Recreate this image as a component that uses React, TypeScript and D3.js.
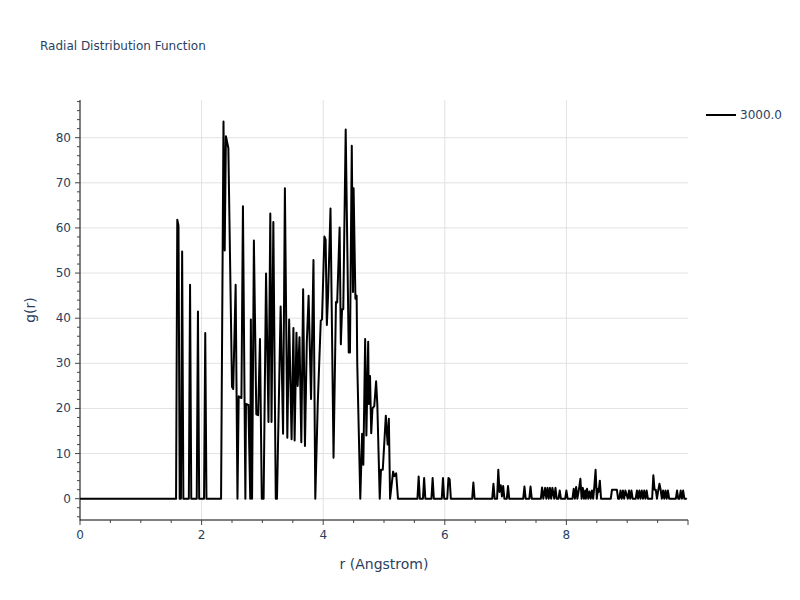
import React from "react";
import * as d3 from "d3";

// r (Angstrom) and g(r) vertices
const rVals = [
  0, 1.58, 1.6, 1.62, 1.64, 1.66, 1.68, 1.7, 1.79, 1.81, 1.83, 1.92, 1.94, 1.96, 2.04, 2.06, 2.08,
  2.32, 2.36, 2.38, 2.4, 2.44, 2.5, 2.52, 2.56, 2.59, 2.61, 2.655, 2.68, 2.72, 2.73, 2.77, 2.8, 2.81,
  2.83, 2.86, 2.9, 2.93, 2.96, 2.99, 3.02, 3.06, 3.1, 3.13, 3.15, 3.18, 3.22, 3.24, 3.3, 3.34, 3.37,
  3.41, 3.44, 3.48, 3.51, 3.53, 3.56, 3.58, 3.61, 3.64, 3.67, 3.7, 3.73, 3.76, 3.8, 3.84, 3.87, 3.91,
  3.96, 3.98, 4.02, 4.04, 4.06, 4.08, 4.12, 4.17, 4.21, 4.23, 4.27, 4.29, 4.31, 4.33, 4.37, 4.42, 4.44,
  4.47, 4.49, 4.5, 4.53, 4.55, 4.56, 4.61, 4.64, 4.66, 4.69, 4.71, 4.74, 4.75, 4.77, 4.79, 4.81, 4.84,
  4.87, 4.89, 4.93, 4.95, 4.98, 5.03, 5.06, 5.08, 5.1, 5.15, 5.17, 5.2, 5.23,
  5.55, 5.57, 5.59, 5.64, 5.66, 5.68, 5.78, 5.8, 5.82, 5.95, 5.97, 5.99, 6.04, 6.06, 6.08, 6.1,
  6.45, 6.47, 6.49, 6.78, 6.8, 6.82, 6.86, 6.88, 6.9, 6.92, 6.94, 6.96, 6.98, 7.02, 7.04, 7.06,
  7.29, 7.31, 7.33, 7.39, 7.41, 7.43, 7.58, 7.6, 7.62, 7.65, 7.67, 7.69, 7.71, 7.73, 7.75, 7.77,
  7.80, 7.82, 7.84, 7.87, 7.89, 7.91, 7.98, 8.0, 8.02, 8.1, 8.12, 8.14, 8.16, 8.18, 8.21, 8.23,
  8.25, 8.27, 8.29, 8.31, 8.32, 8.34, 8.36, 8.38, 8.4, 8.42, 8.44, 8.46, 8.48, 8.5, 8.52, 8.53,
  8.55, 8.57, 8.59, 8.73, 8.75, 8.83, 8.85, 8.87, 8.89, 8.91, 8.93, 8.95, 8.97, 9.01, 9.03, 9.05,
  9.07, 9.09, 9.14, 9.16, 9.18, 9.2, 9.22, 9.24, 9.26, 9.28, 9.3, 9.32, 9.34, 9.41, 9.43, 9.45,
  9.47, 9.49, 9.51, 9.53, 9.55, 9.57, 9.59, 9.61, 9.63, 9.65, 9.67, 9.69, 9.71, 9.8, 9.82, 9.84,
  9.86, 9.88, 9.9, 9.92, 9.94, 9.96, 9.98,
];

const gVals = [
  0, 0, 61.8, 60.5, 0, 0, 54.8, 0, 0, 47.4, 0, 0, 41.5, 0, 0, 36.7, 0,
  0, 83.6, 55, 80.3, 77.7, 24.8, 24.3, 47.4, 0, 22.7, 22.3, 64.8, 0, 21, 20.8, 0, 39.7,
  0, 57.2, 18.7, 18.5, 35.4, 0, 0, 49.9, 17, 63.2, 17, 61.3, 0, 0, 42.6, 14.4, 68.8,
  13.5, 39.7, 13.2, 37.8, 12.9, 36.8, 25, 35.8, 12.5, 46.4, 11.7, 34.5, 45, 22.1, 52.9, 0, 20.9,
  39.5, 39.7, 58.1, 57.4, 38.5, 45, 64.3, 9.1, 43.6, 43.5, 60.1, 34.2, 42, 42, 81.8, 32.4, 32.4,
  78.2, 45.8, 68.8, 44.3, 45, 30, 0, 14.4, 7.5, 35.4, 14, 34.8, 21, 27.2, 14.5, 20, 20.5,
  26, 21, 0, 6.4, 6.4, 18.4, 12, 17.7, 0, 6, 5, 5.6, 0,
  0, 4.9, 0, 0, 4.6, 0, 0, 4.6, 0, 0, 4.6, 0, 0, 4.6, 4.3, 0,
  0, 3.6, 0, 0, 3.3, 0, 0, 6.4, 1.5, 3, 0.5, 2.8, 0, 0, 2.8, 0,
  0, 2.7, 0, 0, 2.7, 0, 0, 2.5, 0, 2.4, 0, 2.4, 0, 2.4, 0, 2.4,
  0, 2.4, 0, 0, 1.8, 0, 0, 1.8, 0, 0, 2.2, 0, 2.6, 0, 2.4, 4.4,
  0, 2.4, 0, 1.8, 0, 2.2, 0, 1.6, 0, 1.8, 0, 2.8, 6.4, 0, 2.2, 1.5,
  4, 0, 0, 0, 2, 2, 0, 0, 1.8, 0, 1.8, 0, 1.8, 0, 1.8, 0,
  1.8, 0, 0, 1.8, 0, 1.8, 0, 1.8, 0, 1.8, 0, 1.8, 0, 0, 5.2, 2,
  2, 0, 1.8, 3.3, 2, 0, 1.8, 0, 1.8, 0, 1.8, 0, 0, 0, 1.8, 0,
  0, 1.8, 0, 1.8, 0, 0, 0,
];

const xTicks = [0, 2, 4, 6, 8];
const yTicks = [0, 10, 20, 30, 40, 50, 60, 70, 80];
const seriesName = "3000.0";

const W = 800;
const H = 600;
const M = { left: 80, right: 112, top: 100, bottom: 80 };
const FONT = '"DejaVu Sans", Verdana, sans-serif';
const TXT = "#2a3f5f";
const GRID = "#e2e2e2";

export default function App() {
  const pw = W - M.left - M.right;
  const ph = H - M.top - M.bottom;
  const x = d3.scaleLinear().domain([0, 10]).range([M.left, M.left + pw]);
  const y = d3.scaleLinear().domain([-4.72, 88.35]).range([M.top + ph, M.top]);

  const pts: [number, number][] = rVals.map((r, i) => [r, gVals[i]]);
  const line = d3
    .line<[number, number]>()
    .x((d) => x(d[0]))
    .y((d) => y(d[1]));

  const xMinor = d3.range(0, 10.01, 0.5);
  const yMinor = d3.range(-4, 88.1, 2);
  const bottom = M.top + ph;

  return (
    <svg
      width={W}
      height={H}
      style={{ position: "absolute", left: 0, top: 0, background: "#fff" }}
      fontFamily={FONT}
    >
      <defs>
        <clipPath id="plotclip">
          <rect x={M.left} y={M.top} width={pw} height={ph} />
        </clipPath>
      </defs>
      {/* grid */}
      {xTicks.filter((t) => t > 0).map((t) => (
        <line key={"gx" + t} x1={x(t)} x2={x(t)} y1={M.top} y2={bottom} stroke={GRID} strokeWidth={1} />
      ))}
      {yTicks.map((t) => (
        <line key={"gy" + t} x1={M.left} x2={M.left + pw} y1={y(t)} y2={y(t)} stroke={GRID} strokeWidth={1} />
      ))}
      {/* data */}
      <path
        d={line(pts) || ""}
        fill="none"
        stroke="#000"
        strokeWidth={2}
        strokeLinejoin="round"
        clipPath="url(#plotclip)"
      />
      {/* axes lines */}
      <line x1={M.left} x2={M.left} y1={M.top} y2={bottom + 0.5} stroke="#000" strokeWidth={1} />
      <line x1={M.left} x2={M.left + pw} y1={bottom} y2={bottom} stroke="#000" strokeWidth={1} />
      {/* x ticks */}
      {xMinor.map((t) => {
        const major = Math.abs(t / 2 - Math.round(t / 2)) < 1e-6;
        return (
          <line key={"xt" + t} x1={x(t)} x2={x(t)} y1={bottom} y2={bottom + (major ? 5 : 3)} stroke="#444" strokeWidth={1} />
        );
      })}
      {xTicks.map((t) => (
        <text key={"xl" + t} x={x(t)} y={bottom + 19} textAnchor="middle" fontSize={12} fill={TXT}>
          {t}
        </text>
      ))}
      {/* y ticks */}
      {yMinor.map((t) => {
        const major = t % 10 === 0;
        return (
          <line key={"yt" + t} x1={M.left - (major ? 5 : 3)} x2={M.left} y1={y(t)} y2={y(t)} stroke="#444" strokeWidth={1} />
        );
      })}
      {yTicks.map((t) => (
        <text key={"yl" + t} x={M.left - 9} y={y(t) + 4} textAnchor="end" fontSize={12} fill={TXT}>
          {t}
        </text>
      ))}
      {/* titles */}
      <text x={40} y={50} fontSize={12} fill={TXT}>
        Radial Distribution Function
      </text>
      <text x={M.left + pw / 2} y={569} textAnchor="middle" fontSize={14} fill={TXT}>
        r (Angstrom)
      </text>
      <text
        transform={`translate(35, ${M.top + ph / 2}) rotate(-90)`}
        textAnchor="middle"
        fontSize={14}
        fill={TXT}
      >
        g(r)
      </text>
      {/* legend */}
      <line x1={706} x2={736} y1={115} y2={115} stroke="#000" strokeWidth={2} />
      <text x={740} y={119} fontSize={12} fill={TXT}>
        {seriesName}
      </text>
    </svg>
  );
}
